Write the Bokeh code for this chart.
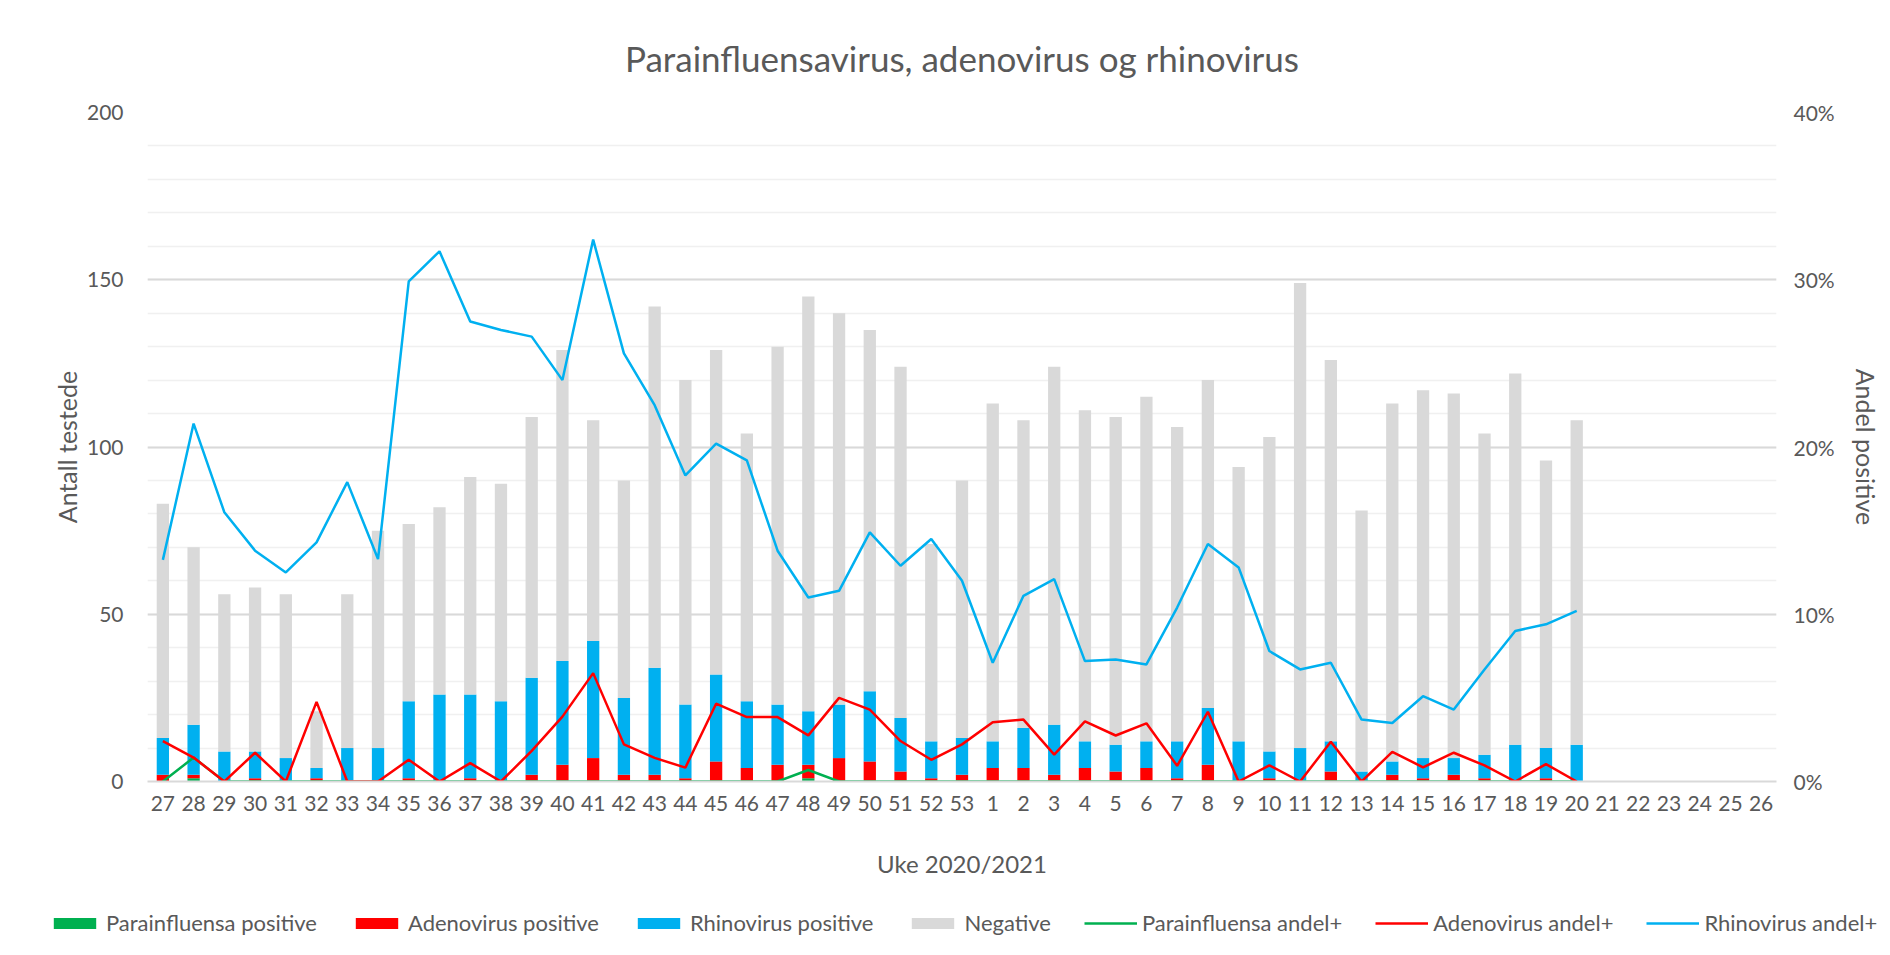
from bokeh.plotting import figure
from bokeh.models import (ColumnDataSource, FactorRange, Range1d, LinearAxis,
                          SingleIntervalTicker, PrintfTickFormatter, Legend, LegendItem)
from bokeh.embed import file_html
from bokeh.resources import INLINE

# ---------------- data ----------------
all_weeks = ["27", "28", "29", "30", "31", "32", "33", "34", "35", "36", "37", "38", "39",
             "40", "41", "42", "43", "44", "45", "46", "47", "48", "49", "50", "51", "52",
             "53", "1", "2", "3", "4", "5", "6", "7", "8", "9", "10", "11", "12", "13",
             "14", "15", "16", "17", "18", "19", "20", "21", "22", "23", "24", "25", "26"]

data_weeks = ["27", "28", "29", "30", "31", "32", "33", "34", "35", "36", "37", "38", "39",
              "40", "41", "42", "43", "44", "45", "46", "47", "48", "49", "50", "51", "52",
              "53", "1", "2", "3", "4", "5", "6", "7", "8", "9", "10", "11", "12", "13",
              "14", "15", "16", "17", "18", "19", "20"]

para_pos = [0, 1, 0, 0, 0, 0, 0, 0, 0, 0, 0, 0, 0, 0, 0, 0, 0, 0, 0, 0, 0, 1, 0, 0, 0, 0,
            0, 0, 0, 0, 0, 0, 0, 0, 0, 0, 0, 0, 0, 0, 0, 0, 0, 0, 0, 0, 0]
adeno_pos = [2, 1, 0, 1, 0, 1, 0, 0, 1, 0, 1, 0, 2, 5, 7, 2, 2, 1, 6, 4, 5, 4, 7, 6, 3, 1,
             2, 4, 4, 2, 4, 3, 4, 1, 5, 0, 1, 0, 3, 0, 2, 1, 2, 1, 0, 1, 0]
rhino_pos = [11, 15, 9, 8, 7, 3, 10, 10, 23, 26, 25, 24, 29, 31, 35, 23, 32, 22, 26, 20, 18,
             16, 16, 21, 16, 11, 11, 8, 12, 15, 8, 8, 8, 11, 17, 12, 8, 10, 9, 3, 4, 6, 5, 7,
             11, 9, 11]
negative = [70, 53, 47, 49, 49, 17, 46, 65, 53, 56, 65, 65, 78, 93, 66, 65, 108, 97, 97, 80,
            107, 124, 117, 108, 105, 59, 77, 101, 92, 107, 99, 98, 103, 94, 98, 82, 94, 139,
            114, 78, 107, 110, 109, 96, 111, 86, 97]

para_pct = [0, 1.43, 0, 0, 0, 0, 0, 0, 0, 0, 0, 0, 0, 0, 0, 0, 0, 0, 0, 0, 0, 0.69, 0, 0, 0,
            0, 0, 0, 0, 0, 0, 0, 0, 0, 0, 0, 0, 0, 0, 0, 0, 0, 0, 0, 0, 0, 0]
adeno_pct = [2.41, 1.43, 0, 1.72, 0, 4.76, 0, 0, 1.30, 0, 1.10, 0, 1.83, 3.88, 6.48, 2.22,
             1.41, 0.83, 4.65, 3.85, 3.85, 2.76, 5.0, 4.3, 2.42, 1.3, 2.22, 3.54, 3.7, 1.61,
             3.6, 2.75, 3.48, 0.94, 4.17, 0, 0.97, 0, 2.38, 0, 1.77, 0.85, 1.72, 0.96, 0,
             1.04, 0]
rhino_pct = [13.25, 21.4, 16.1, 13.8, 12.5, 14.3, 17.9, 13.3, 29.9, 31.7, 27.5, 27.0, 26.6,
             24.0, 32.4, 25.6, 22.5, 18.3, 20.2, 19.2, 13.8, 11.0, 11.4, 14.9, 12.9, 14.5,
             12.0, 7.1, 11.1, 12.1, 7.2, 7.3, 7.0, 10.4, 14.2, 12.8, 7.8, 6.7, 7.1, 3.7, 3.5,
             5.1, 4.3, 6.7, 9.0, 9.4, 10.2]

series_labels = ["Parainfluensa positive", "Adenovirus positive", "Rhinovirus positive",
                 "Negative", "Parainfluensa andel+", "Adenovirus andel+", "Rhinovirus andel+"]

# ---------------- styling ----------------
FONT = "Lato"
TXT = "#595959"
GREEN, RED, BLUE, GREY = "#00B050", "#FF0000", "#00B0F0", "#D9D9D9"
COLORS = [GREEN, RED, BLUE, GREY]
LW = 2.5

source = ColumnDataSource(dict(week=data_weeks, para=para_pos, adeno=adeno_pos,
                               rhino=rhino_pos, neg=negative,
                               para_pct=para_pct, adeno_pct=adeno_pct, rhino_pct=rhino_pct))

p = figure(width=1888, height=891, x_range=FactorRange(*all_weeks),
           y_range=Range1d(0, 200), output_backend="svg", toolbar_location=None,
           min_border_left=147, min_border_right=112, min_border_top=112,
           min_border_bottom=110)
p.outline_line_color = None
p.background_fill_color = "white"
p.border_fill_color = "white"

p.title.text = "Parainfluensavirus, adenovirus og rhinovirus"
p.title.align = "center"
p.title.text_font = FONT
p.title.text_font_size = "35px"
p.title.text_font_style = "normal"
p.title.text_color = TXT
p.title.standoff = 67

# grid
p.xgrid.grid_line_color = None
p.yaxis.ticker = SingleIntervalTicker(interval=50, num_minor_ticks=5)
p.ygrid.grid_line_color = "#D9D9D9"
p.ygrid.grid_line_width = 2
p.ygrid.minor_grid_line_color = "#F0F0F0"
p.ygrid.minor_grid_line_width = 1.5

# left axis
ya = p.yaxis[0]
ya.axis_label = "Antall testede"
ya.axis_line_color = None
ya.major_tick_line_color = None
ya.minor_tick_line_color = None
ya.major_tick_out = 0
ya.major_label_standoff = 20
ya.axis_label_standoff = 2
ya.major_label_text_font = FONT
ya.major_label_text_font_size = "21px"
ya.major_label_text_color = TXT
ya.axis_label_text_font = FONT
ya.axis_label_text_font_size = "25px"
ya.axis_label_text_font_style = "normal"
ya.axis_label_text_color = TXT

# right axis
p.extra_y_ranges = {"pct": Range1d(0, 40)}
ra = LinearAxis(y_range_name="pct", ticker=SingleIntervalTicker(interval=10),
                formatter=PrintfTickFormatter(format="%d%%"), axis_label="Andel positive")
ra.axis_line_color = None
ra.major_tick_line_color = None
ra.minor_tick_line_color = None
ra.major_tick_out = 0
ra.major_label_standoff = 13
ra.axis_label_standoff = 13
ra.major_label_text_font = FONT
ra.major_label_text_font_size = "21px"
ra.major_label_text_color = TXT
ra.axis_label_text_font = FONT
ra.axis_label_text_font_size = "25px"
ra.axis_label_text_font_style = "normal"
ra.axis_label_text_color = TXT
p.add_layout(ra, "right")

# bottom axis
xa = p.xaxis[0]
xa.axis_label = "Uke 2020/2021"
xa.axis_line_color = "#D9D9D9"
xa.axis_line_width = 2
xa.major_tick_line_color = None
xa.minor_tick_line_color = None
xa.major_tick_out = 0
xa.major_label_standoff = 14
xa.axis_label_standoff = 35
xa.major_label_text_font = FONT
xa.major_label_text_font_size = "21px"
xa.major_label_text_color = TXT
xa.axis_label_text_font = FONT
xa.axis_label_text_font_size = "24px"
xa.axis_label_text_font_style = "normal"
xa.axis_label_text_color = TXT

# bars
bars = p.vbar_stack(["para", "adeno", "rhino", "neg"], x="week", width=0.4,
                    fill_color=COLORS, line_color=None, source=source)

# lines
p.line("week", "para_pct", source=source, y_range_name="pct", line_color=GREEN, line_width=LW)
p.line("week", "adeno_pct", source=source, y_range_name="pct", line_color=RED, line_width=LW)
p.line("week", "rhino_pct", source=source, y_range_name="pct", line_color=BLUE, line_width=LW)

# ---------------- legend strip (separate root, full width frame) ----------------
q = figure(width=1890, height=60, x_range=Range1d(0, 1), y_range=Range1d(0, 1),
           output_backend="svg", toolbar_location=None, x_axis_location=None,
           y_axis_location=None, min_border=0)
q.grid.visible = False
q.outline_line_color = None
q.background_fill_color = "white"
q.border_fill_color = "white"

# hidden proxy glyphs: only their legend keys are drawn
legend_renderers = []
for c in COLORS:
    legend_renderers.append(q.vbar(x=[0.5], bottom=[0.4], top=[0.6], width=0.1, fill_color=c,
                                   line_color=None, visible=False))
for c in [GREEN, RED, BLUE]:
    legend_renderers.append(q.line(x=[0.4, 0.6], y=[0.5, 0.5], line_color=c, line_width=LW,
                                   visible=False))

items = [LegendItem(label=lab, renderers=[r]) for lab, r in zip(series_labels, legend_renderers)]
legend = Legend(items=items, orientation="horizontal", location=(48, 15),
                glyph_width=53, glyph_height=14, label_standoff=5, spacing=33,
                padding=0, margin=0, border_line_color=None, background_fill_alpha=0,
                inactive_fill_alpha=0,
                label_text_font=FONT, label_text_font_size="22px", label_text_color=TXT)
q.add_layout(legend)

open("out.html", "w").write(file_html([p, q], INLINE))
